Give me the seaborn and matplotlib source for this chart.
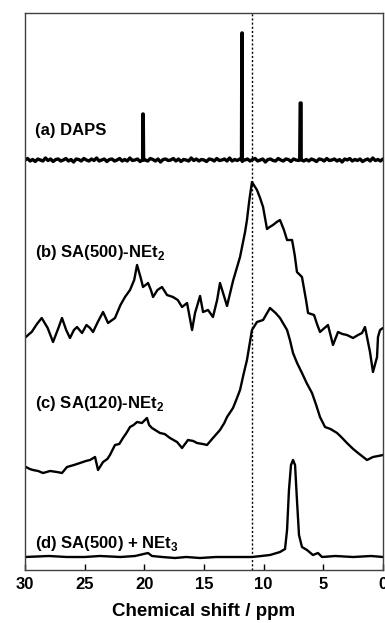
import numpy as np
import pandas as pd
import matplotlib
matplotlib.use("Agg")
import matplotlib.pyplot as plt
import seaborn as sns

# (a) DAPS: sharp lines on a noisy baseline
daps_noise = [0, 1.5, -1, 0.5, -1.5, 1, 0, -1, 2, -0.5, 1, -1.5, 0.5, 1, -1, 0,
              1.5, -1, 0.5, -2, 1, 0.5, -1, 1.5, 0, -1, 1, -0.5, 2, -1, 0, 1,
              -1.5, 0.5, 1, -1, 0, 1.5, -1, 0.5, -1, 2, -0.5, 0, 1, -1.5, 1, 0,
              -1, 1.5, 0.5, -1, 1, -2, 0.5, 1, -0.5, 0, 1.5, -1, 1, -1.5, 0.5, 0,
              -1, 2, -0.5, 1, -1, 0.5, 0, -1.5, 1, 0.5, -1, 1.5, -0.5, 0, 1, -1,
              2, -1, 0.5, -0.5, 1, -1.5, 0, 1, -1, 0.5, 1.5, -1, 0, 1, -2, 0.5,
              1, -0.5, -1, 1.5, 0, -1, 1, 0.5, -1.5, 1, 0, -0.5, 2, -1, 0.5, -1,
              1, 0, -1.5, 1, 0.5, -1, 1.5, -0.5, 0, 1, -1, 0.5, -2, 1, 0, 1.5,
              -1, 0.5, -0.5, 1, -1.5, 0, 1, -1, 2, -0.5, 0.5, -1, 1]
daps_peak_ppm = [20.16, 20.13, 20.09, 20.06, 11.86, 11.83, 11.79, 11.76,
                 6.98, 6.94, 6.86, 6.82]
daps_peak_int = [0, 46, 46, 0, 0, 127, 127, 0, 0, 57, 57, 0]

# (b) SA(500)-NEt2
b_ppm = [29.92, 29.65, 29.44, 29.0, 28.60, 28.1, 27.65, 27.2, 26.90, 26.55,
         26.23, 25.9, 25.64, 25.22, 24.85, 24.55, 24.30, 23.9, 23.46, 23.04,
         22.46, 22.0, 21.62, 21.20, 20.85, 20.61, 20.30, 20.11, 19.69, 19.45,
         19.27, 18.9, 18.52, 18.10, 17.60, 17.2, 16.84, 16.42, 16.00, 15.75,
         15.33, 15.08, 14.66, 14.25, 13.9, 13.66, 13.35, 13.07, 12.57, 12.3,
         11.98, 11.56, 11.40, 11.2, 10.98, 10.56, 10.3, 10.05, 9.72, 9.5,
         9.22, 8.9, 8.63, 8.3, 8.04, 7.62, 7.4, 7.21, 6.79, 6.45,
         6.28, 5.78, 5.5, 5.28, 4.9, 4.61, 4.19, 3.77, 3.4, 3.02,
         2.51, 2.09, 1.76, 1.51, 1.34, 1.09, 0.84, 0.50, 0.42, 0.25,
         0.00]
b_int = [13, 16, 18, 26, 32, 22, 8, 22, 32, 20,
         12, 20, 23, 17, 25, 22, 18, 28, 38, 27,
         32, 45, 53, 60, 70, 85, 72, 63, 67, 60,
         53, 60, 63, 55, 53, 50, 43, 47, 20, 37,
         54, 38, 40, 33, 50, 67, 55, 44, 69, 80,
         93, 118, 130, 150, 168, 160, 152, 143, 121, 123,
         125, 128, 130, 120, 110, 110, 95, 78, 73, 50,
         37, 35, 25, 18, 22, 25, 5, 18, 16, 15,
         12, 15, 17, 23, 13, -2, -22, -7, 13, 20,
         22]

# (c) SA(120)-NEt2
c_ppm = [29.92, 29.6, 29.33, 28.9, 28.49, 27.9, 27.32, 26.9, 26.48, 25.9,
         25.39, 24.9, 24.55, 24.13, 23.88, 23.46, 23.1, 22.88, 22.46, 22.1,
         21.79, 21.5, 21.20, 20.9, 20.61, 20.2, 19.78, 19.6, 19.36, 18.69,
         18.3, 17.85, 17.26, 16.84, 16.34, 15.9, 15.59, 15.1, 14.75, 14.25,
         13.66, 13.3, 13.07, 12.57, 12.3, 11.98, 11.7, 11.40, 10.98, 10.56,
         10.05, 9.47, 9.0, 8.63, 8.04, 7.8, 7.54, 7.2, 6.79, 6.4,
         5.95, 5.6, 5.28, 4.86, 4.4, 3.85, 3.5, 3.02, 2.5, 2.09,
         1.34, 0.84, 0.40, 0.00]
c_int = [8, 6, 5, 4, 2, 4, 3, 2, 8, 10,
         12, 14, 15, 18, 5, 13, 16, 20, 30, 31,
         37, 42, 48, 50, 53, 52, 57, 50, 47, 42,
         41, 37, 33, 27, 35, 34, 32, 31, 30, 37,
         45, 52, 58, 67, 75, 85, 100, 115, 145, 153,
         155, 167, 162, 157, 145, 135, 122, 112, 102, 92,
         82, 70, 58, 48, 46, 42, 38, 32, 26, 22,
         15, 18, 19, 20]

# (d) SA(500) + NEt3
d_ppm = [30.0, 28.0, 26.5, 25.0, 23.71, 22.0, 20.78, 19.69, 19.36, 18.5,
         17.43, 16.5, 15.33, 14.0, 12.82, 10.98, 10.2, 9.47, 8.63, 8.21,
         8.04, 7.88, 7.71, 7.54, 7.37, 7.21, 7.04, 6.79, 6.37, 5.87,
         5.45, 5.11, 4.0, 2.5, 1.0, 0.0]
d_int = [0, 1, 0, 0, 1, 0, 1, 4, 1, 0,
         -1, 0, -1, 0, 0, 0, 1, 2, 5, 8,
         27, 67, 92, 97, 92, 57, 22, 10, 7, 2,
         4, 0, 1, 0, 1, 0]

labels = ["(a) DAPS", r"(b) SA(500)-NEt$_\mathbf{2}$",
          r"(c) SA(120)-NEt$_\mathbf{2}$", r"(d) SA(500) + NEt$_\mathbf{3}$"]
offsets = [410, 220, 95, 13]
label_y = [435, 313, 162, 22]

# build long table
daps_ppm = list(np.linspace(30, 0, len(daps_noise))) + daps_peak_ppm
daps_int = daps_noise + daps_peak_int
rows = []
for name, xs, ys, off in zip(labels, [daps_ppm, b_ppm, c_ppm, d_ppm],
                             [daps_int, b_int, c_int, d_int], offsets):
    part = pd.DataFrame({"ppm": xs, "y": np.array(ys) + off, "sample": name})
    rows.append(part.sort_values("ppm", ascending=False))
df = pd.concat(rows, ignore_index=True)

sns.set_theme(style="ticks")
plt.rcParams["font.family"] = ["Liberation Sans", "DejaVu Sans"]
plt.rcParams["font.weight"] = "bold"
plt.rcParams["text.color"] = "black"
plt.rcParams["mathtext.fontset"] = "custom"
plt.rcParams["mathtext.bf"] = "Liberation Sans:bold"
plt.rcParams["mathtext.rm"] = "Liberation Sans:bold"

fig = plt.figure(figsize=(3.85, 6.23), dpi=100)
ax = fig.add_axes([25 / 385, 53 / 623, 358 / 385, 557 / 623])

for i, name in enumerate(labels):
    sub = df[df["sample"] == name]
    sns.lineplot(data=sub, x="ppm", y="y", sort=False, estimator=None,
                 color="black", lw=2.4 if i == 0 else 1.7, ax=ax, legend=False)
    ax.text(29.2, label_y[i], name, fontsize=12, fontweight="bold",
            color="black", va="baseline", ha="left")

ax.axvline(11.0, color="black", lw=1, ls=(0, (1.5, 1.5)))

ax.set_xlim(30, 0)
ax.set_ylim(0, 557)
ax.set_yticks([])
ax.set_xticks([30, 25, 20, 15, 10, 5, 0])
ax.tick_params(axis="x", direction="in", length=4, width=1, pad=5,
               labelsize=12, colors="black")
for lab in ax.get_xticklabels():
    lab.set_fontweight("bold")
for s in ax.spines.values():
    s.set_visible(True)
    s.set_color("#404040")
    s.set_linewidth(1)
ax.set_xlabel("Chemical shift / ppm", fontsize=13.5, fontweight="bold",
              color="black", labelpad=8)
ax.set_ylabel("")

fig.savefig("out.png", dpi=100)
